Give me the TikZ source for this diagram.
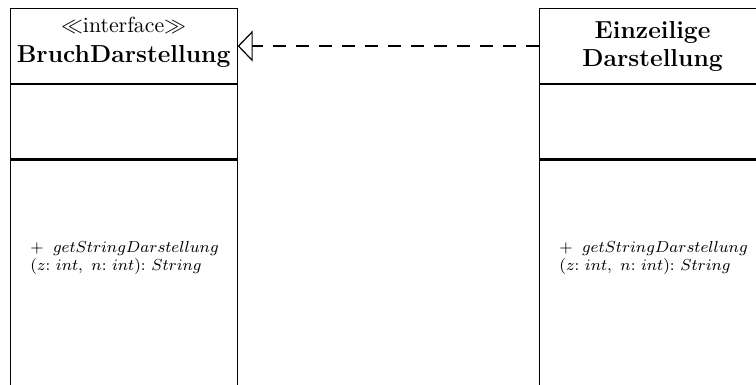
\documentclass[tikz,border=0pt]{standalone}
\usepackage{tikz}
\usetikzlibrary{arrows.meta,positioning}
\tikzset{
    umlhead/.style={draw, line width=0.6pt, align=center, minimum width=113.5pt, minimum height=37.5pt, inner sep=0pt, font=\fontsize{12.3}{14}\selectfont\bfseries},
    umlattr/.style={draw, line width=0.6pt, minimum width=113.5pt, minimum height=37pt, inner sep=0pt},
    umlops/.style={draw, line width=0.6pt, minimum width=113.5pt, minimum height=114pt, inner sep=0pt},
    umlmethod/.style={align=left, inner sep=0pt, font=\fontsize{8}{9.2}\selectfont},
    umlrealize/.style={-{Triangle[open, length=7.5pt, width=15.5pt]}, line width=0.6pt, dash pattern=on 6.5pt off 5pt}
}

\begin{document}
\begin{tikzpicture}[x=0.5pt, y=-0.5pt]
        \useasboundingbox (0,0) rectangle (756,385);
        \clip (0,0) rectangle (756,385);

        % interface
        \node[umlhead, anchor=north west, text depth=6pt] (bruchhead) at (9.5,8) {{\fontsize{10.9}{13}\selectfont\mdseries$\ll$interface$\gg$}\\[1pt]BruchDarstellung};
        \node[umlattr, below=0pt of bruchhead] (bruchattr) {};
        \node[umlops, below=0pt of bruchattr] (bruchops) {};
        \node[umlmethod, anchor=north west] (bruchop) at (30,240.5) {$+\;\;getStringDarstellung$\\$(z{:}\ int,\ n{:}\ int){:}\ String$};

        % implementierende Klasse
        \node[umlhead, anchor=north west] (einzhead) at (538.5,8) {Einzeilige\\Darstellung};
        \node[umlattr, below=0pt of einzhead] (einzattr) {};
        \node[umlops, below=0pt of einzattr] (einzops) {};
        \node[umlmethod, anchor=north west] (einzop) at (559,240.5) {$+\;\;getStringDarstellung$\\$(z{:}\ int,\ n{:}\ int){:}\ String$};

        \draw[umlrealize] (einzhead.west) -- (bruchhead.east);
    \end{tikzpicture}
\end{document}
